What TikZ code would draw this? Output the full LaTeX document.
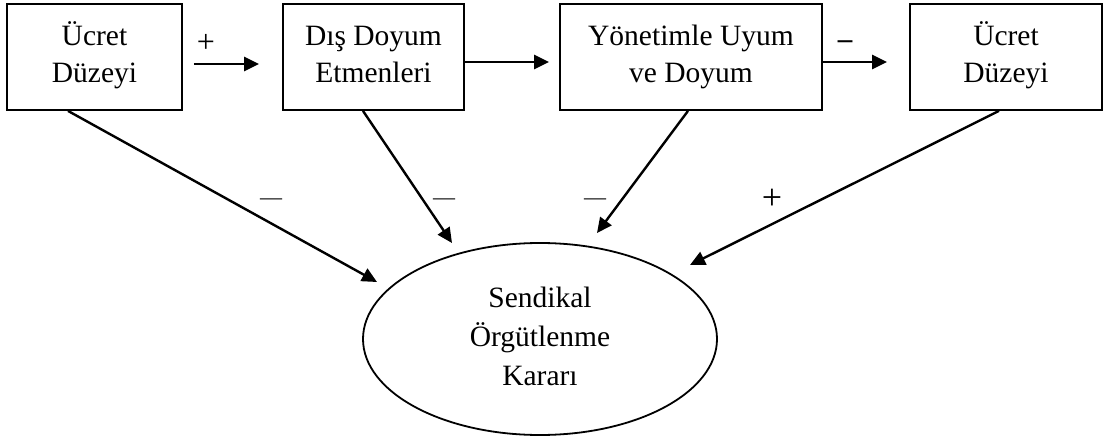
\documentclass[tikz,border=0pt]{standalone}
\usepackage{fontspec}
\setmainfont{Liberation Serif}
\usetikzlibrary{arrows.meta,shapes.geometric,calc}
\newcommand{\boxtext}[1]{\raisebox{8pt}{\begin{tabular}{@{}c@{}}#1\end{tabular}}}
\begin{document}
\begin{tikzpicture}[x=1pt,y=-1pt,
  boxnode/.style={draw,line width=1.8pt,minimum height=106pt,inner sep=0pt,font=\fontsize{29.5}{37}\selectfont},
  oval/.style={draw,ellipse,line width=1.8pt,minimum width=354pt,minimum height=192pt,inner sep=0pt,align=center,font=\fontsize{29.5}{39}\selectfont},
  conn/.style={line width=2.4pt,-{Triangle[length=15pt,width=14pt]}},
  sign/.style={inner sep=0pt,anchor=center}]
\useasboundingbox (0,0) rectangle (1106,441);
\node[boxnode,minimum width=175pt] (b1) at (94.5,57) {\boxtext{Ücret\\Düzeyi}};
\node[boxnode,minimum width=181pt] (b2) at (373.5,57) {\boxtext{Dış Doyum\\Etmenleri}};
\node[boxnode,minimum width=262pt] (b3) at (691,57) {\boxtext{Yönetimle Uyum\\ve Doyum}};
\node[boxnode,minimum width=192pt] (b4) at (1006,57) {\boxtext{Ücret\\Düzeyi}};
\node[oval] (e) at (540,339) {\raisebox{3pt}{\begin{tabular}{@{}c@{}}Sendikal\\Örgütlenme\\Kararı\end{tabular}}};
\coordinate (t1) at (377,282);
\coordinate (t2) at (452,243);
\coordinate (t3) at (597,233);
\coordinate (t4) at (690,265);
\draw[conn,shorten <=11pt,shorten >=23pt] ([yshift=-7pt]b1.east) -- ([yshift=-7pt]b2.west);
\draw[conn,shorten >=10pt] ([yshift=-5pt]b2.east) -- ([yshift=-5pt]b3.west);
\draw[conn,shorten >=22pt] ([yshift=-5pt]b3.east) -- ([yshift=-5pt]b4.west);
\draw[conn] ([xshift=-26.5pt]b1.south) -- (t1);
\draw[conn] ([xshift=-10.5pt]b2.south) -- (t2);
\draw[conn] ([xshift=-3pt]b3.south) -- (t3);
\draw[conn] ([xshift=-7pt]b4.south) -- (t4);
\node[sign,font=\fontsize{32}{32}\selectfont] (p1) at (206,43) {+};
\node[sign,font=\fontsize{29}{29}\selectfont\bfseries] (m1) at (845,45) {–};
\node[sign,font=\fontsize{22}{22}\selectfont] (m2) at (271,202) {—};
\node[sign,font=\fontsize{22}{22}\selectfont] (m3) at (444,202) {—};
\node[sign,font=\fontsize{22}{22}\selectfont] (m4) at (595,202) {—};
\node[sign,font=\fontsize{36}{36}\selectfont] (p2) at (772,199) {+};
\end{tikzpicture}
\end{document}
